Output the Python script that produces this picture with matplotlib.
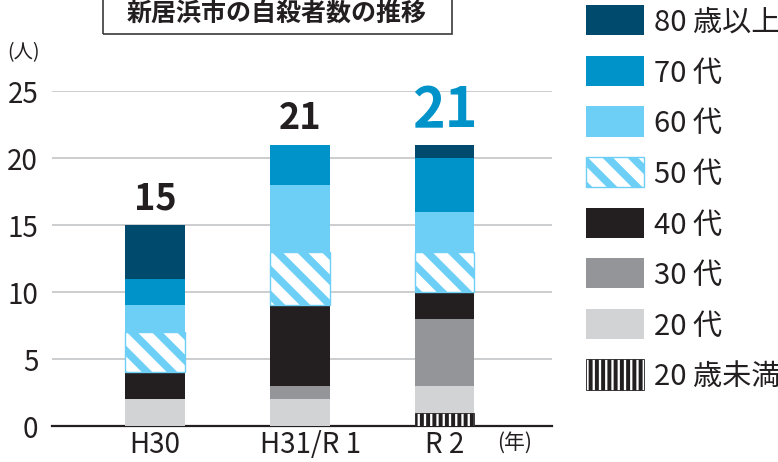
import matplotlib
matplotlib.use("Agg")
import matplotlib.pyplot as plt
from matplotlib.patches import Rectangle, Patch
from matplotlib.transforms import ScaledTranslation
import numpy as np

DPI = 150
K = 100 / DPI  # point-size scale so that sizes match a 100-dpi layout


def pt(v):
    return v * K


plt.rcParams['font.family'] = ['Noto Sans CJK JP', 'DejaVu Sans']

# ---- data ----
years = ["H30", "H31/R 1", "R 2"]
under20 = [0, 0, 1]
age20s = [2, 2, 2]
age30s = [0, 1, 5]
age40s = [2, 6, 2]
age50s = [3, 4, 3]
age60s = [2, 5, 3]
age70s = [2, 3, 4]
age80plus = [4, 0, 1]
series_labels = ["20 歳未満", "20 代", "30 代", "40 代", "50 代", "60 代", "70 代", "80 歳以上"]
yticks = [0, 5, 10, 15, 20, 25]
title = "新居浜市の自殺者数の推移"

series = [under20, age20s, age30s, age40s, age50s, age60s, age70s, age80plus]
styles = [
    dict(facecolor="white", edgecolor="#231f20", hatch="||||", linewidth=pt(0.6)),
    dict(facecolor="#d1d3d4", edgecolor="none", linewidth=0),
    dict(facecolor="#939598", edgecolor="none", linewidth=0),
    dict(facecolor="#231f20", edgecolor="none", linewidth=0),
    dict(facecolor="white", edgecolor="#6dcff6", hatch="\\\\", linewidth=pt(1.0)),
    dict(facecolor="#6dcff6", edgecolor="none", linewidth=0),
    dict(facecolor="#0093c9", edgecolor="none", linewidth=0),
    dict(facecolor="#004a6e", edgecolor="none", linewidth=0),
]
hatch_lws = [1.9, 1, 1, 1, 3.6, 1, 1, 1]
total_colors = ["#231f20", "#231f20", "#0093c9"]
total_sizes = [26, 26, 40]

fig = plt.figure(figsize=(778 / DPI, 463 / DPI), dpi=DPI)
ax = fig.add_axes([52/778, 1-427/463, 500/778, 335/463])

x = np.arange(len(years))
bottom = np.zeros(len(years))
handles = []
for vals, st, lab, hlw in zip(series, styles, series_labels, hatch_lws):
    v = np.array(vals, dtype=float)
    with plt.rc_context({'hatch.linewidth': hlw}):
        bars = ax.bar(x, v, width=0.41, bottom=bottom, zorder=3, **st)
        h = Patch(label=lab, **st)
    for b in list(bars) + [h]:
        if hasattr(b, "set_hatch_linewidth"):
            b.set_hatch_linewidth(hlw)
    handles.append(h)
    bottom += v

totals = bottom
for xi, t, c, s in zip(x, totals, total_colors, total_sizes):
    ax.annotate(f"{int(t)}", (xi, t), xytext=(0, pt(12 if s < 30 else 13)),
                textcoords="offset points", ha="center", va="baseline",
                fontsize=pt(s), fontweight="bold", color=c, annotation_clip=False)

ax.set_xlim(-0.71, 2.74)
ax.set_ylim(0, 25)
ax.set_yticks(yticks)
ax.set_yticklabels([str(t) for t in yticks], fontsize=pt(20), color="#231f20")
ax.set_xticks(x)
ax.set_xticklabels(years, fontsize=pt(20), color="#231f20")
ax.tick_params(axis="both", length=0)
ax.tick_params(axis="y", pad=pt(10))
ax.tick_params(axis="x", pad=pt(2))
# the middle label sits slightly right of its bar in the reference
lbl = ax.get_xticklabels()[1]
lbl.set_transform(lbl.get_transform() + ScaledTranslation(11 / DPI, 0, fig.dpi_scale_trans))
ax.yaxis.grid(True, color="#c8c9ca", linewidth=pt(1.3), zorder=0)
ax.set_axisbelow(True)
for sp in ["left", "right", "top"]:
    ax.spines[sp].set_visible(False)
ax.spines["bottom"].set_color("#231f20")
ax.spines["bottom"].set_linewidth(pt(1.6))

fig.text(7/778, 1-53/463, "(人)", fontsize=pt(14), color="#231f20", va="center", ha="left")
fig.text(515/778, 1-443/463, "(年)", fontsize=pt(15), color="#231f20", va="center", ha="center")

# title box
fig.add_artist(Rectangle((103/778, 1-35/463), 349/778, 60/463, transform=fig.transFigure,
                         fill=False, edgecolor="#3a3a3a", linewidth=pt(1.2)))
fig.text(277/778, 1-14/463, title, fontsize=pt(18), fontweight="bold", color="#231f20",
         ha="center", va="center")

leg = fig.legend(handles=handles[::-1], loc="upper left", bbox_to_anchor=(586/778, 1-6/463),
                 frameon=False, fontsize=pt(21), handlelength=1.98, handleheight=1.22,
                 handletextpad=0.36, labelspacing=0.64, borderpad=0, borderaxespad=0)
for t in leg.get_texts():
    t.set_color("#231f20")
for lh, hlw in zip(leg.legend_handles, hatch_lws[::-1]):
    if hasattr(lh, "set_hatch_linewidth"):
        lh.set_hatch_linewidth(hlw)

fig.savefig("out.png", dpi=DPI)
